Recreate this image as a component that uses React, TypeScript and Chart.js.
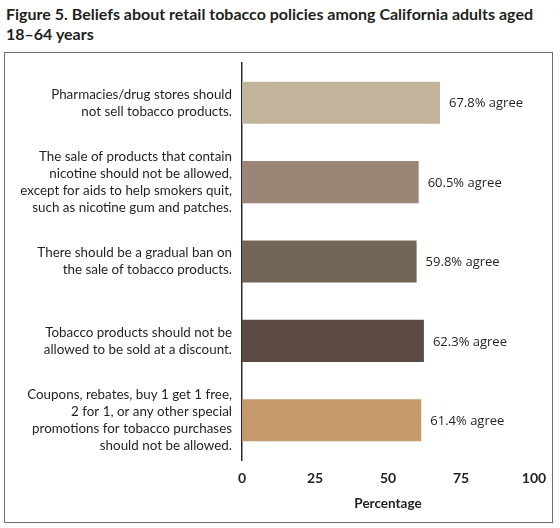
import React, { useEffect, useRef } from 'react';
import { Chart, registerables } from 'chart.js';

Chart.register(...registerables);

// Statements (y categories), one line per array entry
const statements: string[][] = [
  ['Pharmacies/drug stores should', 'not sell tobacco products.'],
  [
    'The sale of products that contain',
    'nicotine should not be allowed,',
    'except for aids to help smokers quit,',
    'such as nicotine gum and patches.',
  ],
  ['There should be a gradual ban on', 'the sale of tobacco products.'],
  ['Tobacco products should not be', 'allowed to be sold at a discount.'],
  [
    'Coupons, rebates, buy 1 get 1 free,',
    '2 for 1, or any other special',
    'promotions for tobacco purchases',
    'should not be allowed.',
  ],
];

const agreePct = [67.8, 60.5, 59.8, 62.3, 61.4];
const barColors = ['#c2b49a', '#9b8576', '#736656', '#5a4a42', '#c4996b'];
const xTickValues = [0, 25, 50, 75, 100];

const TEXT = '#231f20';

// Draws "xx.x% agree" to the right of each bar
const agreeLabels = {
  id: 'agreeLabels',
  afterDatasetsDraw(chart: any) {
    const ctx = chart.ctx;
    const meta = chart.getDatasetMeta(0);
    ctx.save();
    ctx.font = '13px "Open Sans"';
    ctx.fillStyle = TEXT;
    ctx.textAlign = 'left';
    ctx.textBaseline = 'middle';
    meta.data.forEach((bar: any, i: number) => {
      ctx.fillText(`${agreePct[i]}% agree`, bar.x + 9, bar.y + 1);
    });
    ctx.restore();
  },
};

const App: React.FC = () => {
  const chartRef = useRef<HTMLCanvasElement>(null);
  const chartInstance = useRef<Chart | null>(null);

  useEffect(() => {
    if (!chartRef.current) return;
    if (chartInstance.current) chartInstance.current.destroy();

    const ctx = chartRef.current.getContext('2d');
    if (!ctx) return;

    chartInstance.current = new Chart(ctx, {
      type: 'bar',
      data: {
        labels: statements,
        datasets: [
          {
            label: 'Agree',
            data: agreePct,
            backgroundColor: barColors,
            borderWidth: 0,
            barPercentage: 0.53,
            categoryPercentage: 1,
          },
        ],
      },
      options: {
        indexAxis: 'y',
        animation: false,
        responsive: true,
        maintainAspectRatio: false,
        layout: {
          padding: { top: 10, right: 18, bottom: 10, left: 0 },
        },
        plugins: {
          legend: { display: false },
          tooltip: { enabled: false },
          title: { display: false },
        },
        scales: {
          x: {
            min: 0,
            max: 100,
            afterBuildTicks: (scale: any) => {
              scale.ticks = xTickValues.map((v) => ({ value: v }));
            },
            afterFit: (scale: any) => {
              scale.height = 52;
              scale.paddingLeft = 0;
              scale.paddingRight = 0;
            },
            grid: { display: false, drawTicks: false },
            border: { display: false },
            ticks: {
              padding: 10,
              color: TEXT,
              font: { family: 'Lato', size: 14, weight: 'bold' },
            },
            title: {
              display: true,
              text: 'Percentage',
              color: TEXT,
              padding: { top: 4, bottom: 0 },
              font: { family: 'Lato', size: 13.5, weight: 'bold' },
            },
          },
          y: {
            grid: { display: false, drawTicks: false },
            border: { display: true, color: '#2b2b2b', width: 1.5 },
            afterFit: (scale: any) => {
              scale.width = 237;
              scale.paddingTop = 0;
              scale.paddingBottom = 0;
            },
            ticks: {
              padding: 10,
              color: TEXT,
              font: { family: 'Lato', size: 13.4, lineHeight: '17px' },
            },
          },
        },
      },
      plugins: [agreeLabels],
    });

    return () => {
      if (chartInstance.current) {
        chartInstance.current.destroy();
        chartInstance.current = null;
      }
    };
  }, []);

  return (
    <div
      style={{
        position: 'absolute',
        left: 0,
        top: 0,
        width: 560,
        height: 528,
        background: '#fff',
      }}
    >
      <div
        style={{
          position: 'absolute',
          left: 6,
          top: 4,
          fontFamily: 'Lato',
          fontWeight: 700,
          fontSize: 16,
          lineHeight: '20px',
          color: TEXT,
          whiteSpace: 'nowrap',
        }}
      >
        Figure 5. Beliefs about retail tobacco policies among California adults aged
        <br />
        18–64 years
      </div>
      <div
        style={{
          position: 'absolute',
          left: 4,
          top: 52,
          width: 549,
          height: 471,
          boxSizing: 'border-box',
          border: '1px solid #6e6e6e',
        }}
      >
        <div style={{ position: 'relative', width: '100%', height: '100%' }}>
          <canvas ref={chartRef}></canvas>
        </div>
      </div>
    </div>
  );
};

export default App;
